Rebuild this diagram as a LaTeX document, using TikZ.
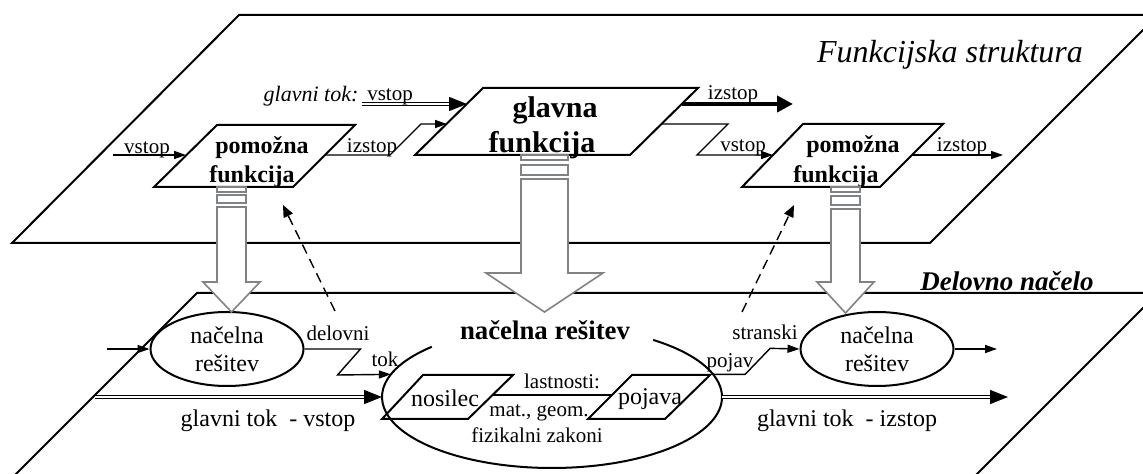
\documentclass[tikz,border=0pt]{standalone}
\usepackage{fontspec}
\setmainfont{Liberation Serif}
\usetikzlibrary{arrows.meta,shapes.geometric}
\definecolor{transf}{RGB}{128,131,134}

\begin{document}
\begin{tikzpicture}[x=0.5pt, y=-0.5pt,
  plane/.style={line width=1pt},
  blok/.style={line width=1pt, line join=miter},
  lbl/.style={font=\fontsize{10.5}{12}\selectfont, inner sep=0pt, anchor=base},
  rs/.style={font=\fontsize{12}{14}\selectfont, inner sep=0pt, anchor=base},
  pomf/.style={font=\bfseries\fontsize{12}{14}\selectfont, inner sep=0pt, anchor=base},
  glf/.style={font=\bfseries\fontsize{15}{18}\selectfont, inner sep=0pt, anchor=base},
  resit/.style={ellipse, draw, line width=1pt, minimum width=76.5pt, minimum height=37pt,
    inner sep=0pt, align=center, font=\fontsize{12}{14}\selectfont},
  aux/.style={line width=0.7pt, -{Triangle[length=6pt,width=4pt]}},
  mainflow/.style={double, double distance=0.7pt, line width=0.6pt, -{Triangle[length=9pt,width=7pt]}},
  thickflow/.style={line width=2pt, -{Triangle[length=8pt,width=8pt]}},
  feedback/.style={line width=0.7pt, dash pattern=on 5pt off 3pt, -{Triangle[length=6pt,width=5pt]}},
  transfer/.style={draw=transf, line width=0.8pt, fill=white}]
  \useasboundingbox (0,0) rectangle (1143,474);
  % the two planes
  \begin{scope}
    \clip (0,0) rectangle (1143,474);
    \draw[plane] (12,243) -- (930,243) -- (1158,15) -- (239,15) -- cycle;
    \draw[plane] (10,480) -- (197,293) -- (1158,293) -- (971,480) -- cycle;
  \end{scope}
  \node[lbl, font=\itshape\fontsize{16}{19}\selectfont] (fs-title) at (950,63) {Funkcijska struktura};
  \node[lbl, font=\bfseries\itshape\fontsize{13.5}{16}\selectfont] (dn-title) at (1007,291) {Delovno načelo};

  % functions
  \draw[blok] (154,187) -- (293,187) -- (355,125) -- (217,125) -- cycle;
  \draw[blok] (415,155) -- (630,155) -- (698,88) -- (483,88) -- cycle;
  \draw[blok] (742,187) -- (880,187) -- (943,124) -- (803,124) -- cycle;
  \node[pomf] (pfL1) at (262,154) {pomožna};
  \node[pomf] (pfL2) at (252,183) {funkcija};
  \node[glf] (gf1) at (555,118) {glavna};
  \node[glf] (gf2) at (542,153) {funkcija};
  \node[pomf] (pfR1) at (853,153) {pomožna};
  \node[pomf] (pfR2) at (836,183) {funkcija};
  \coordinate (pfL-in) at (186,155);
  \coordinate (pfL-out) at (325,155);
  \coordinate (gf-in1) at (467,104);
  \coordinate (gf-in2) at (447,124);
  \coordinate (gf-out1) at (682,104);
  \coordinate (gf-out2) at (662,124);
  \coordinate (pfR-in) at (773,155);
  \coordinate (pfR-out) at (912,155);
  \coordinate (vstop-L) at (113,155);
  \coordinate (izstop-R) at (1003,155);
  \coordinate (gtok-in) at (362,104);
  \coordinate (gtok-out) at (793,104);

  % flows on top
  \draw[aux] (vstop-L) -- (pfL-in);
  \draw[aux] (pfL-out) -- ++(65,0) -- ++(31,-31) -- (gf-in2);
  \draw[aux] (gf-out2) -- ++(66,0) -- ++(-31,31) -- (pfR-in);
  \draw[aux] (pfR-out) -- (izstop-R);
  \draw[mainflow] (gtok-in) -- (gf-in1);
  \draw[thickflow] (gf-out1) -- (gtok-out);
  \node[lbl, font=\itshape\fontsize{11}{13}\selectfont] (t-gtok) at (311,102) {glavni tok:};
  \node[lbl] (t-vstop) at (390,101) {vstop};
  \node[lbl] (t-izstop) at (733,100) {izstop};
  \node[lbl] (pl-vstop) at (147,154) {vstop};
  \node[lbl] (pl-izstop) at (372,153) {izstop};
  \node[lbl] (pr-vstop) at (743,152) {vstop};
  \node[lbl] (pr-izstop) at (962,152) {izstop};

  % principle solutions
  \node[resit] (resL) at (227,349) {načelna\\rešitev};
  \node[resit] (resR) at (877,349) {načelna\\rešitev};
  \node[ellipse, minimum width=170pt, minimum height=71pt, inner sep=0pt, outer sep=0pt] (resitev) at (552,397) {};
  \draw[blok] (552,397) ++(-53.5:170 and 71) arc[start angle=-53.5, end angle=225, x radius=170, y radius=71];
  \node[lbl, font=\bfseries\fontsize{13.4}{16}\selectfont] (res-title) at (545,340) {načelna rešitev};
  \draw[blok] (382,419) -- (468,419) -- (513,375) -- (423,375) -- cycle;
  \draw[blok] (588,419) -- (665,419) -- (710,375) -- (632,375) -- cycle;
  \node[rs] (nosilec) at (445,407) {nosilec};
  \node[rs] (pojava) at (650,405) {pojava};
  \coordinate (nos-out) at (493,395);
  \coordinate (poj-in) at (612,395);
  \draw[line width=0.7pt] (nos-out) -- (poj-in);
  \node[lbl] (t-last) at (562,389) {lastnosti:};
  \node[lbl] (t-mat) at (539,417) {mat., geom.};
  \node[lbl] (t-fiz) at (537,443) {fizikalni zakoni};

  % flows at the bottom
  \coordinate (resL-in) at (107,349);
  \coordinate (resR-out) at (997,349);
  \coordinate (glt-in) at (95,397);
  \coordinate (glt-out) at (1008,397);
  \draw[aux] (resL-in) -- (resL.west);
  \draw[aux] (resR.east) -- (resR-out);
  \draw[aux] (resL.east) -- ++(56,0) -- ++(-23,26) -- (resitev.172);
  \draw[aux] (resitev.8) -- ++(32,0) -- ++(25,-26) -- (resR.west);
  \draw[mainflow] (glt-in) -- (resitev.west);
  \draw[mainflow] (resitev.east) -- (glt-out);
  \node[lbl] (t-del) at (338,341) {delovni};
  \node[lbl] (t-tok) at (385,367) {tok};
  \node[lbl] (t-str) at (765,340) {stranski};
  \node[lbl] (t-poj) at (730,368) {pojav};
  \node[rs] (t-gvs) at (268,427) {glavni tok~ - vstop};
  \node[rs] (t-giz) at (847,427) {glavni tok~ - izstop};

  % transfer to the principle
  \foreach \xa/\xb/\ya/\g/\yh/\ov/\tip in {217/246/187/8/282/14/312, 521/568/155/10/273/35/312, 831/860/187/9/282/14/313} {
    \draw[transfer] (\xa,\ya) rectangle (\xb,\ya+5);
    \draw[transfer] (\xa,\ya+\g) rectangle (\xb,\ya+2*\g);
    \draw[transfer] (\xa,\ya+2*\g+4) -- (\xa,\yh) -- (\xa-\ov,\yh) -- ({(\xa+\xb)/2},\tip)
      -- (\xb+\ov,\yh) -- (\xb,\yh) -- (\xb,\ya+2*\g+4) -- cycle;
  }
  % feedback
  \coordinate (fbL-a) at (335,311);
  \coordinate (fbL-b) at (283,205);
  \coordinate (fbR-a) at (742,312);
  \coordinate (fbR-b) at (794,205);
  \draw[feedback] (fbL-a) -- (fbL-b);
  \draw[feedback] (fbR-a) -- (fbR-b);
\end{tikzpicture}
\end{document}
